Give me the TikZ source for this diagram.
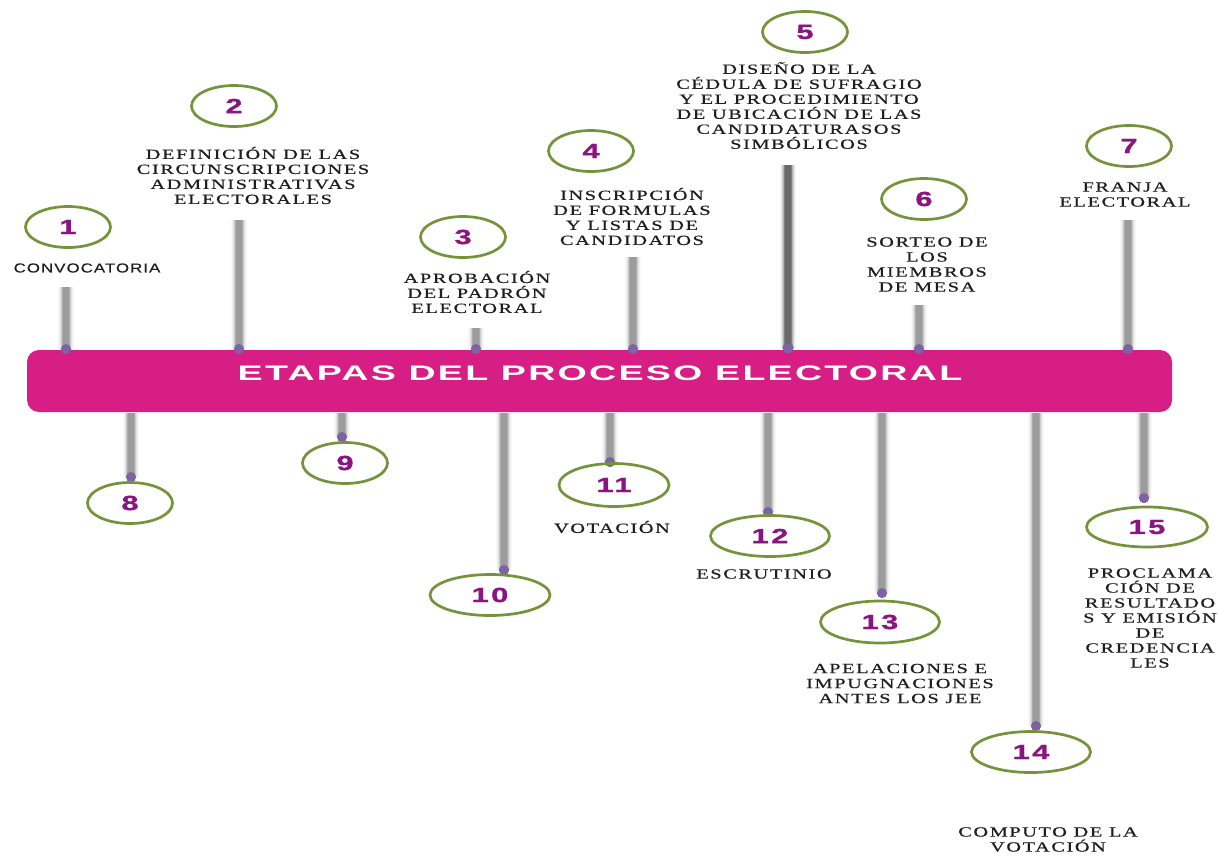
\documentclass[tikz,border=0pt]{standalone}
\usepackage{fontspec}
\setmainfont{Liberation Serif}
\newfontfamily\lblfont{Liberation Serif}[LetterSpace=8,FakeBold=0.4]
\newfontfamily\sanslbl{Liberation Sans}[LetterSpace=6,FakeBold=0.3]
\newfontfamily\numfont{Liberation Sans}[LetterSpace=8,BoldFeatures={FakeBold=1}]
\newfontfamily\titlefont{Liberation Sans}[LetterSpace=6]
\usetikzlibrary{shapes.geometric}
\definecolor{bannerc}{HTML}{D61E84}
\definecolor{ellc}{HTML}{76933C}
\definecolor{numc}{HTML}{8A1580}
\definecolor{dotc}{HTML}{7F62A6}
\definecolor{stemc}{HTML}{9C9C9C}
\definecolor{stemdark}{HTML}{6A6A6A}
\definecolor{txtc}{HTML}{1E1E1E}
\newcommand\numtxt[1]{\scalebox{1.5}[1]{\color{numc}\numfont\bfseries\fontsize{20.5}{20.5}\selectfont #1}}
\tikzset{
  ell/.style={ellipse, draw=ellc, line width=2.7pt, inner sep=0pt, minimum width=85pt, minimum height=41pt},
  wideell/.style={ell, minimum width=120pt},
  dotnode/.style={circle, fill=dotc, inner sep=0pt, minimum size=10pt},
  lbl/.style={align=center, text=txtc, inner sep=0pt, xscale=1.45, font=\lblfont\fontsize{14}{15}\selectfont},
  slbl/.style={align=center, text=txtc, inner sep=0pt, xscale=1.3, font=\sanslbl\fontsize{13}{15}\selectfont},
}
% blurred stem from a coordinate to a dot node
\newcommand\stemcol[3]{%
  \foreach \k/\o in {-7/0.05,-6/0.1,-5/0.2,-4/0.4,-3/0.75,-2/1,-1/1,0/1,1/1,2/1,3/0.75,4/0.4,5/0.2,6/0.1,7/0.05}{%
    \draw[line width=1.05pt, #3, opacity=\o] ([xshift=\k pt]#1) -- ([xshift=\k pt]#2.center);}}
\newcommand\stem[2]{\stemcol{#1}{#2}{stemc}}
\newcommand\darkstem[2]{\stemcol{#1}{#2}{stemdark}}
\begin{document}
\begin{tikzpicture}[x=1pt,y=-1pt]
\useasboundingbox (0,0) rectangle (1218,855);
\fill[white] (0,0) rectangle (1218,855);

% banner
\node[fill=bannerc, rounded corners=12pt, minimum width=1145pt, minimum height=62pt, inner sep=0pt] (ban) at (599.5,381) {};
\node[text=white, inner sep=0pt, xscale=1.79, font=\titlefont\bfseries\fontsize{21}{24}\selectfont] (title) at (600,373.5) {ETAPAS DEL PROCESO ELECTORAL};

% top stems: coordinates and dots
\coordinate (t1) at (66,287);   \node[dotnode] (d1) at (66,349) {};
\coordinate (t2) at (239,220);  \node[dotnode] (d2) at (239,349) {};
\coordinate (t3) at (476,328);  \node[dotnode] (d3) at (476,349) {};
\coordinate (t4) at (633,257);  \node[dotnode] (d4) at (633,349) {};
\coordinate (t5) at (788,165);  \node[dotnode, minimum size=11pt] (d5) at (788,348) {};
\coordinate (t6) at (919,305);  \node[dotnode] (d6) at (919,349) {};
\coordinate (t7) at (1128,220); \node[dotnode] (d7) at (1128,349) {};

% bottom stems
\coordinate (t8) at (131,413);   \node[dotnode] (d8) at (131,477) {};
\coordinate (t9) at (342,413);   \node[dotnode] (d9) at (342,437) {};
\coordinate (t10) at (504,413);  \node[dotnode] (d10) at (504,570) {};
\coordinate (t11) at (610,413);  \node[dotnode] (d11) at (610,462) {};
\coordinate (t12) at (768,413);  \node[dotnode] (d12) at (768,512) {};
\coordinate (t13) at (882,413);  \node[dotnode] (d13) at (882,593) {};
\coordinate (t14) at (1036,413); \node[dotnode] (d14) at (1036,726) {};
\coordinate (t15) at (1144,413); \node[dotnode] (d15) at (1144,498) {};

\stem{t1}{d1} \stem{t2}{d2} \stem{t3}{d3} \stem{t4}{d4}
\darkstem{t5}{d5} \stem{t6}{d6} \stem{t7}{d7}
\stem{t8}{d8} \stem{t9}{d9} \stem{t10}{d10} \stem{t11}{d11}
\stem{t12}{d12} \stem{t13}{d13} \stem{t14}{d14} \stem{t15}{d15}

% dots drawn on top of the stems
\foreach \i in {1,2,3,4,6,7,8,9,10,11,12,13,14,15} {\fill[dotc] (d\i) circle[radius=5pt];}
\fill[dotc] (d5) circle[radius=5.5pt];

% ellipses
\node[ell] (e1) at (68,227) {\numtxt{1}};
\node[ell] (e2) at (234,106) {\numtxt{2}};
\node[ell] (e3) at (463,237) {\numtxt{3}};
\node[ell] (e4) at (591,151) {\numtxt{4}};
\node[ell] (e5) at (805,32) {\numtxt{5}};
\node[ell] (e6) at (924,199) {\numtxt{6}};
\node[ell] (e7) at (1129,146) {\numtxt{7}};
\node[ell] (e8) at (130,503) {\numtxt{8}};
\node[ell] (e9) at (345,463) {\numtxt{9}};
\node[wideell] (e10) at (490,595) {\numtxt{10}};
\node[wideell, minimum width=110pt, minimum height=43pt] (e11) at (614,485) {\numtxt{11}};
\node[wideell, minimum width=119pt] (e12) at (770,536) {\numtxt{12}};
\node[wideell, minimum width=119pt, minimum height=42pt] (e13) at (880,622) {\numtxt{13}};
\node[wideell, minimum width=119pt] (e14) at (1031,752) {\numtxt{14}};
\node[wideell, minimum width=121pt, minimum height=40pt] (e15) at (1147,527) {\numtxt{15}};

% labels
\node[slbl] (l1) at (87,268) {CONVOCATORIA};
\node[lbl] (l2) at (253,175.5) {DEFINICIÓN DE LAS\\CIRCUNSCRIPCIONES\\ADMINISTRATIVAS\\ELECTORALES};
\node[lbl] (l3) at (477,292) {APROBACIÓN\\DEL PADRÓN\\ELECTORAL};
\node[lbl] (l4) at (632,216.5) {INSCRIPCIÓN\\DE FORMULAS\\Y LISTAS DE\\CANDIDATOS};
\node[lbl] (l5) at (799,105.5) {DISEÑO DE LA\\CÉDULA DE SUFRAGIO\\Y EL PROCEDIMIENTO\\DE UBICACIÓN DE LAS\\CANDIDATURASOS\\SIMBÓLICOS};
\node[lbl] (l6) at (927,264.5) {SORTEO DE\\LOS\\MIEMBROS\\DE MESA};
\node[lbl] (l7) at (1125,194.5) {FRANJA\\ELECTORAL};
\node[lbl] (l11) at (612,527) {VOTACIÓN};
\node[lbl] (l12) at (764,574) {ESCRUTINIO};
\node[lbl] (l13) at (900,683.5) {APELACIONES E\\IMPUGNACIONES\\ANTES LOS JEE};
\node[lbl] (l14) at (1048,839.5) {COMPUTO DE LA\\VOTACIÓN};
\node[lbl] (l15) at (1150,618) {PROCLAMA\\CIÓN DE\\RESULTADO\\S Y EMISIÓN\\DE\\CREDENCIA\\LES};
\end{tikzpicture}
\end{document}
